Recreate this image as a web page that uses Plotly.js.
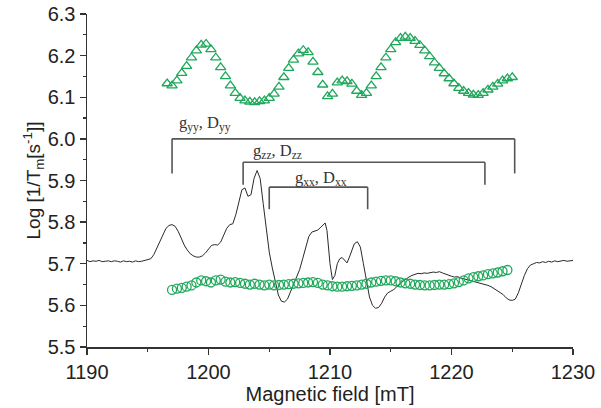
<!DOCTYPE html>
<html><head><meta charset="utf-8">
<script src="https://cdn.plot.ly/plotly-3.0.1.min.js"></script>
<style>html,body{margin:0;padding:0;background:#fff}#chart{width:601px;height:408px}</style>
</head><body><div id="chart"></div>
<script>
// Black spectrum line
const lineX = [1190.0,1190.25,1190.5,1190.75,1191.0,1191.25,1191.5,1191.75,1192.0,1192.25,1192.5,1192.75,1193.0,1193.25,1193.5,1193.75,1194.0,1194.25,1194.5,1194.75,1195.0,1195.25,1195.5,1195.75,1196.0,1196.25,1196.5,1196.75,1197.0,1197.25,1197.5,1197.75,1198.0,1198.25,1198.5,1198.75,1199.0,1199.25,1199.5,1199.75,1200.0,1200.25,1200.5,1200.75,1201.0,1201.25,1201.5,1201.75,1202.0,1202.25,1202.5,1202.75,1203.0,1203.25,1203.5,1203.75,1204.0,1204.25,1204.5,1204.75,1205.0,1205.25,1205.5,1205.75,1206.0,1206.25,1206.5,1206.75,1207.0,1207.25,1207.5,1207.75,1208.0,1208.25,1208.5,1208.75,1209.0,1209.25,1209.5,1209.6,1209.75,1210.0,1210.2,1210.4,1210.6,1210.8,1211.0,1211.2,1211.4,1211.6,1211.8,1212.0,1212.25,1212.5,1212.75,1213.0,1213.25,1213.5,1213.75,1214.0,1214.25,1214.5,1214.75,1215.0,1215.25,1215.5,1215.75,1216.0,1216.25,1216.5,1216.75,1217.0,1217.25,1217.5,1217.75,1218.0,1218.25,1218.5,1218.75,1219.0,1219.25,1219.5,1219.75,1220.0,1220.25,1220.5,1220.75,1221.0,1221.25,1221.5,1221.75,1222.0,1222.25,1222.5,1222.75,1223.0,1223.25,1223.5,1223.75,1224.0,1224.25,1224.5,1224.75,1225.0,1225.25,1225.5,1225.75,1226.0,1226.25,1226.5,1226.75,1227.0,1227.25,1227.5,1227.75,1228.0,1228.25,1228.5,1228.75,1229.0,1229.25,1229.5,1229.75,1230.0];
const lineY = [5.708,5.705,5.707,5.706,5.708,5.705,5.706,5.707,5.705,5.707,5.706,5.704,5.707,5.705,5.706,5.704,5.707,5.705,5.706,5.708,5.709,5.712,5.722,5.738,5.756,5.772,5.785,5.792,5.794,5.790,5.778,5.762,5.745,5.733,5.724,5.719,5.716,5.716,5.719,5.726,5.736,5.744,5.746,5.745,5.752,5.768,5.785,5.794,5.796,5.818,5.852,5.878,5.882,5.862,5.866,5.905,5.924,5.905,5.845,5.782,5.728,5.690,5.655,5.625,5.610,5.608,5.615,5.632,5.650,5.668,5.686,5.712,5.740,5.765,5.776,5.778,5.781,5.788,5.797,5.798,5.780,5.700,5.662,5.672,5.700,5.712,5.715,5.708,5.702,5.716,5.735,5.748,5.753,5.740,5.700,5.655,5.620,5.600,5.593,5.595,5.605,5.620,5.630,5.634,5.638,5.645,5.650,5.658,5.662,5.668,5.672,5.675,5.677,5.676,5.678,5.677,5.679,5.680,5.679,5.681,5.678,5.675,5.672,5.670,5.668,5.669,5.666,5.664,5.662,5.660,5.658,5.657,5.655,5.652,5.650,5.648,5.645,5.640,5.636,5.632,5.626,5.618,5.613,5.612,5.615,5.630,5.652,5.672,5.688,5.697,5.700,5.703,5.702,5.705,5.703,5.706,5.704,5.707,5.705,5.706,5.708,5.706,5.707,5.708];

// Triangle series (upper)
const triX = [1196.6,1197.0,1197.4,1197.8,1198.2,1198.6,1199.0,1199.4,1199.8,1200.2,1200.6,1201.0,1201.4,1201.8,1202.2,1202.6,1203.0,1203.4,1203.8,1204.2,1204.6,1205.0,1205.4,1205.8,1206.2,1206.6,1207.0,1207.4,1207.8,1208.2,1208.6,1209.0,1209.4,1209.8,1210.2,1210.6,1211.0,1211.4,1211.8,1212.2,1212.6,1213.0,1213.4,1213.8,1214.2,1214.6,1215.0,1215.4,1215.8,1216.2,1216.6,1217.0,1217.4,1217.8,1218.2,1218.6,1219.0,1219.4,1219.8,1220.2,1220.6,1221.0,1221.4,1221.8,1222.2,1222.6,1223.0,1223.4,1223.8,1224.2,1224.6,1225.0];
const triY = [6.133,6.128,6.140,6.158,6.175,6.195,6.212,6.226,6.228,6.215,6.195,6.172,6.150,6.128,6.110,6.098,6.092,6.089,6.088,6.090,6.092,6.098,6.108,6.125,6.148,6.170,6.190,6.205,6.213,6.208,6.185,6.160,6.130,6.102,6.108,6.135,6.140,6.138,6.132,6.115,6.105,6.110,6.128,6.150,6.172,6.195,6.215,6.232,6.242,6.245,6.242,6.235,6.225,6.212,6.198,6.183,6.170,6.157,6.145,6.133,6.122,6.115,6.110,6.106,6.105,6.110,6.118,6.125,6.132,6.140,6.145,6.148];

// Circle series (lower)
const cirX = [1197.0,1197.4,1197.8,1198.2,1198.6,1199.0,1199.4,1199.8,1200.2,1200.6,1201.0,1201.4,1201.8,1202.2,1202.6,1203.0,1203.4,1203.8,1204.2,1204.6,1205.0,1205.4,1205.8,1206.2,1206.6,1207.0,1207.4,1207.8,1208.2,1208.6,1209.0,1209.4,1209.8,1210.2,1210.6,1211.0,1211.4,1211.8,1212.2,1212.6,1213.0,1213.4,1213.8,1214.2,1214.6,1215.0,1215.4,1215.8,1216.2,1216.6,1217.0,1217.4,1217.8,1218.2,1218.6,1219.0,1219.4,1219.8,1220.2,1220.6,1221.0,1221.4,1221.8,1222.2,1222.6,1223.0,1223.4,1223.8,1224.2,1224.6];
const cirY = [5.637,5.640,5.642,5.645,5.648,5.655,5.660,5.658,5.655,5.660,5.662,5.657,5.655,5.656,5.654,5.652,5.650,5.652,5.650,5.648,5.650,5.648,5.649,5.650,5.651,5.652,5.653,5.654,5.655,5.656,5.654,5.650,5.648,5.646,5.645,5.645,5.646,5.647,5.648,5.650,5.652,5.655,5.657,5.659,5.660,5.660,5.658,5.655,5.653,5.652,5.650,5.649,5.648,5.648,5.649,5.650,5.650,5.651,5.653,5.656,5.660,5.665,5.668,5.670,5.672,5.675,5.677,5.679,5.682,5.685];

// Bracket annotations
const brLabels = ['g<sub>yy</sub>, D<sub>yy</sub>','g<sub>zz</sub>, D<sub>zz</sub>','g<sub>xx</sub>, D<sub>xx</sub>'];
const brLeft   = [1197.0, 1202.85, 1205.0];
const brRight  = [1225.2, 1222.75, 1213.1];
const brTop    = [6.000, 5.944, 5.884];
const brBottom = [5.917, 5.890, 5.831];
const brLabelX = [1199.7, 1205.7, 1209.3];
const brLabelY = [6.036, 5.972, 5.906];

const green = '#1fa85c';
const traces = [
  {x: lineX, y: lineY, mode: 'lines', type: 'scatter', line: {color: '#2a2a2a', width: 1}, hoverinfo: 'skip'},
  {x: triX, y: triY, mode: 'markers', type: 'scatter', marker: {symbol: 'triangle-up-open', size: 9, color: green, line: {width: 1.3, color: green}}},
  {x: cirX, y: cirY, mode: 'markers', type: 'scatter', marker: {symbol: 'circle-open', size: 9, color: green, line: {width: 1.3, color: green}}}
];

const shapes = [];
const annotations = [];
for (let i = 0; i < brLabels.length; i++) {
  const ln = {color: '#555', width: 1.6};
  shapes.push({type: 'line', xref: 'x', yref: 'y', x0: brLeft[i], x1: brRight[i], y0: brTop[i], y1: brTop[i], line: ln});
  shapes.push({type: 'line', xref: 'x', yref: 'y', x0: brLeft[i], x1: brLeft[i], y0: brTop[i], y1: brBottom[i], line: ln});
  shapes.push({type: 'line', xref: 'x', yref: 'y', x0: brRight[i], x1: brRight[i], y0: brTop[i], y1: brBottom[i], line: ln});
  annotations.push({x: brLabelX[i], y: brLabelY[i], xref: 'x', yref: 'y', text: brLabels[i], showarrow: false,
    font: {family: 'Liberation Serif, Times New Roman, serif', size: 16.5, color: '#333'}});
}

const axisCommon = {
  showgrid: false, zeroline: false, showline: true, linecolor: '#333', linewidth: 1.5,
  ticks: 'outside', ticklen: 6, tickwidth: 1.3, tickcolor: '#333',
  tickfont: {family: 'Liberation Sans, Arial, sans-serif', size: 20, color: '#222'},
  mirror: false
};

const layout = {
  width: 601, height: 408,
  margin: {l: 87, r: 28, t: 14, b: 61},
  paper_bgcolor: '#fff', plot_bgcolor: '#fff',
  showlegend: false,
  xaxis: Object.assign({}, axisCommon, {
    range: [1190, 1230], dtick: 10, tick0: 1190,
    minor: {dtick: 5, ticks: 'outside', ticklen: 3, tickcolor: '#333', showgrid: false},
    title: {text: 'Magnetic field [mT]', standoff: 0, font: {family: 'Liberation Sans, Arial, sans-serif', size: 20, color: '#222'}}
  }),
  yaxis: Object.assign({}, axisCommon, {
    range: [5.5, 6.3], dtick: 0.1, tick0: 5.5, tickformat: '.1f',
    minor: {dtick: 0.05, ticks: 'outside', ticklen: 3, tickcolor: '#333', showgrid: false},
    title: {text: 'Log [1/T<sub>m</sub>[s<sup>-1</sup>]]', standoff: 2, font: {family: 'Liberation Sans, Arial, sans-serif', size: 19, color: '#222'}}
  }),
  shapes: shapes,
  annotations: annotations
};

Plotly.newPlot('chart', traces, layout, {displayModeBar: false, staticPlot: true});
</script>
</body></html>
